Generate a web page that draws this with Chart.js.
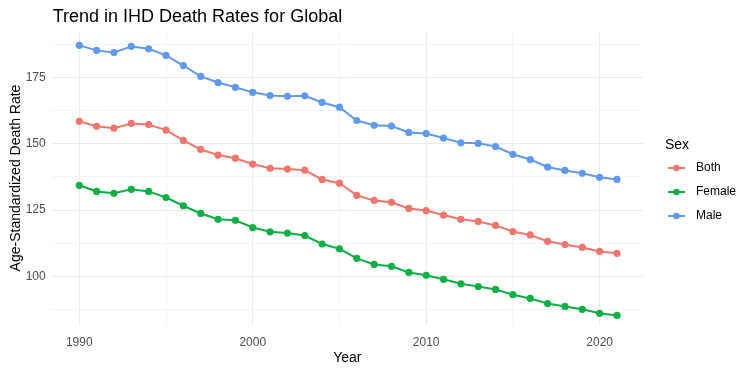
<!DOCTYPE html>
<html>
<head>
<meta charset="utf-8">
<script src="https://cdn.jsdelivr.net/npm/chart.js@4"></script>
<style>
  html, body { margin: 0; padding: 0; background: #fff; }
  #wrap { width: 750px; height: 373px; }
</style>
</head>
<body>
<div id="wrap"><canvas id="chart" width="750" height="373"></canvas></div>
<script>
const years = [1990, 1991, 1992, 1993, 1994, 1995, 1996, 1997, 1998, 1999, 2000, 2001, 2002, 2003, 2004, 2005,
  2006, 2007, 2008, 2009, 2010, 2011, 2012, 2013, 2014, 2015, 2016, 2017, 2018, 2019, 2020, 2021];
const both = [158.4, 156.5, 155.8, 157.6, 157.2, 155.1, 151.2, 147.8, 145.7, 144.5, 142.3, 140.7, 140.4, 140.0, 136.5, 135.1,
  130.5, 128.6, 127.9, 125.6, 124.8, 123.1, 121.5, 120.7, 119.2, 116.9, 115.6, 113.2, 112.0, 110.9, 109.4, 108.7];
const female = [134.3, 132.0, 131.3, 132.8, 132.0, 129.7, 126.6, 123.7, 121.5, 121.1, 118.4, 116.8, 116.3, 115.4, 112.2, 110.4,
  106.8, 104.5, 103.8, 101.5, 100.4, 98.9, 97.2, 96.2, 95.1, 93.1, 91.7, 89.8, 88.7, 87.6, 86.1, 85.3];
const male = [187.0, 185.1, 184.3, 186.6, 185.7, 183.2, 179.4, 175.3, 173.0, 171.2, 169.3, 168.1, 167.8, 168.0, 165.5, 163.7,
  158.7, 156.9, 156.6, 154.2, 153.8, 152.1, 150.3, 150.1, 148.9, 146.0, 144.0, 141.2, 139.9, 138.8, 137.3, 136.5];

const xTicks = [1990, 1995, 2000, 2005, 2010, 2015, 2020];
const xLabels = [1990, 2000, 2010, 2020];
const yTicks = [87.5, 100, 112.5, 125, 137.5, 150, 162.5, 175, 187.5];
const yLabels = [100, 125, 150, 175];

const seriesNames = ["Both", "Female", "Male"];
const seriesColors = ["#EF766E", "#10AE47", "#6299EA"];
const seriesValues = [both, female, male];

const FONT = "'Liberation Sans', Arial, sans-serif";

function gridColor(labels) {
  return (ctx) => labels.includes(ctx.tick && ctx.tick.value) ? "#EBEBEB" : "#F4F4F4";
}

// title and legend drawn by hand, ggplot style
const extras = {
  id: "extras",
  afterDraw(chart) {
    const c = chart.ctx;
    const area = chart.chartArea;
    c.save();
    c.fillStyle = "#000";
    c.textBaseline = "alphabetic";
    c.textAlign = "left";
    c.font = "18px " + FONT;
    c.fillText("Trend in IHD Death Rates for Global", area.left + 1, 22);

    c.textBaseline = "middle";
    c.font = "14px " + FONT;
    c.fillText("Sex", 665, 145);
    c.font = "12px " + FONT;
    chart.data.datasets.forEach((ds, i) => {
      const y = 168 + i * 24;
      c.strokeStyle = ds.borderColor;
      c.lineWidth = 2;
      c.beginPath();
      c.moveTo(668, y);
      c.lineTo(685, y);
      c.stroke();
      c.fillStyle = ds.borderColor;
      c.beginPath();
      c.arc(676.5, y, 3.2, 0, Math.PI * 2);
      c.fill();
      c.fillStyle = "#000";
      c.fillText(ds.label, 696, y);
    });
    c.restore();
  }
};

new Chart(document.getElementById("chart"), {
  type: "line",
  data: {
    datasets: seriesNames.map((name, i) => ({
      label: name,
      data: years.map((yr, j) => ({ x: yr, y: seriesValues[i][j] })),
      borderColor: seriesColors[i],
      backgroundColor: seriesColors[i],
      borderWidth: 2,
      pointRadius: 3.6,
      pointBorderWidth: 0,
      tension: 0,
    })),
  },
  options: {
    responsive: false,
    animation: false,
    layout: { padding: { top: 31, right: 107, left: 0, bottom: 0 } },
    plugins: {
      legend: { display: false },
      tooltip: { enabled: false },
    },
    scales: {
      x: {
        type: "linear",
        min: 1988.41,
        max: 2022.5,
        afterBuildTicks: (s) => { s.ticks = xTicks.map(v => ({ value: v })); },
        afterFit: (s) => { s.height = 48; },
        grid: { color: gridColor(xLabels), lineWidth: 1, drawTicks: false },
        border: { display: false },
        ticks: {
          padding: 10,
          color: "#4D4D4D",
          font: { family: FONT, size: 12 },
          maxRotation: 0,
          autoSkip: false,
          callback: (v) => xLabels.includes(v) ? String(v) : "",
        },
        title: {
          display: true,
          text: "Year",
          color: "#000",
          font: { family: FONT, size: 14 },
          padding: { top: 0, bottom: 6.6 },
        },
      },
      y: {
        min: 81.7,
        max: 192.4,
        afterBuildTicks: (s) => { s.ticks = yTicks.map(v => ({ value: v })); },
        afterFit: (s) => { s.width = 51.7; },
        grid: { color: gridColor(yLabels), lineWidth: 1, drawTicks: false },
        border: { display: false },
        ticks: {
          padding: 6,
          color: "#4D4D4D",
          font: { family: FONT, size: 12 },
          autoSkip: false,
          callback: (v) => yLabels.includes(v) ? String(v) : "",
        },
        title: {
          display: true,
          text: "Age-Standardized Death Rate",
          color: "#000",
          font: { family: FONT, size: 14 },
          padding: { top: 7.6, bottom: 0 },
        },
      },
    },
  },
  plugins: [extras],
});
</script>
</body>
</html>
